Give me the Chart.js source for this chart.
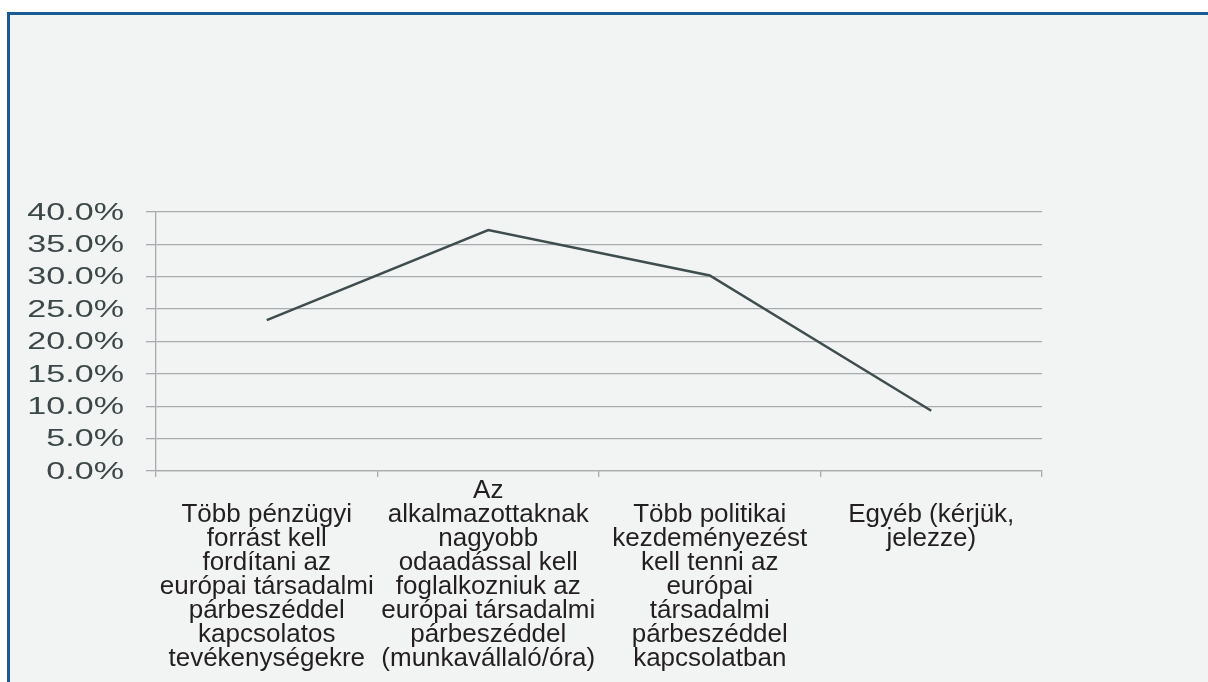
<!DOCTYPE html>
<html>
<head>
<meta charset="utf-8">
<script src="https://cdn.jsdelivr.net/npm/chart.js@4"></script>
<style>
  html, body { margin: 0; padding: 0; background: #fff; }
  #frame {
    position: absolute; left: 7px; top: 12px; width: 1220px; height: 700px;
    background: #f2f3f3;
    border-top: 3px solid #1b5b95;
    border-left: 3px solid #1b5b95;
  }
  #myCanvas { position: absolute; left: 0; top: 0; }
</style>
</head>
<body>
<div id="frame"></div>
<canvas id="myCanvas" width="1208" height="682"></canvas>
<script>
const categories = [
  ['Több pénzügyi', 'forrást kell', 'fordítani az', 'európai társadalmi', 'párbeszéddel', 'kapcsolatos', 'tevékenységekre'],
  ['Az', 'alkalmazottaknak', 'nagyobb', 'odaadással kell', 'foglalkozniuk az', 'európai társadalmi', 'párbeszéddel', '(munkavállaló/óra)'],
  ['Több politikai', 'kezdeményezést', 'kell tenni az', 'európai', 'társadalmi', 'párbeszéddel', 'kapcsolatban'],
  ['Egyéb (kérjük,', 'jelezze)']
];

const values = [23.3, 37.2, 30.2, 9.3];

const yTickLabels = ['0.0%', '5.0%', '10.0%', '15.0%', '20.0%', '25.0%', '30.0%', '35.0%', '40.0%'];

// y labels in the picture are drawn horizontally stretched
const wideYLabels = {
  id: 'wideYLabels',
  afterDraw(chart) {
    const y = chart.scales.y;
    const ctx = chart.ctx;
    ctx.save();
    ctx.font = '24px "Liberation Sans", Arial, sans-serif';
    ctx.fillStyle = '#3c4748';
    ctx.textAlign = 'right';
    ctx.textBaseline = 'middle';
    y.ticks.forEach((t, i) => {
      ctx.save();
      ctx.translate(y.right - 32, y.getPixelForTick(i) + 1);
      ctx.scale(1.42, 1);
      ctx.fillText(yTickLabels[i], 0, 0);
      ctx.restore();
    });
    ctx.restore();
  }
};

const data = {
  labels: categories,
  datasets: [{
    data: values,
    borderColor: '#3f4d4f',
    borderWidth: 2.5,
    pointRadius: 0,
    tension: 0,
    fill: false
  }]
};

const config = {
  type: 'line',
  data: data,
  plugins: [wideYLabels],
  options: {
    responsive: false,
    animation: false,
    layout: { padding: { top: 212, right: 166, bottom: 0, left: 0 } },
    plugins: { legend: { display: false }, tooltip: { enabled: false } },
    scales: {
      x: {
        offset: true,
        afterFit: s => { s.height = 211; },
        grid: { offset: true, drawOnChartArea: false, drawTicks: true, tickLength: 6, color: '#a8acae', lineWidth: 1.3 },
        border: { color: '#a8acae', width: 1.3 },
        ticks: {
          autoSkip: false,
          maxRotation: 0,
          padding: 14,
          crossAlign: 'far',
          color: '#231f20',
          font: { family: '"Liberation Sans", Arial, sans-serif', size: 26, lineHeight: '24px' },
          callback: (v, i) => {
            const lines = categories[i].slice();
            while (lines.length < 7) lines.push('');
            return lines;
          }
        }
      },
      y: {
        min: 0,
        max: 40,
        afterFit: s => { s.width = 156; },
        grid: { color: '#a8acae', lineWidth: 1.3, tickLength: 10 },
        border: { color: '#a8acae', width: 1.3 },
        ticks: {
          stepSize: 5,
          color: 'rgba(0,0,0,0)',
          font: { size: 20 },
          callback: (v, i) => yTickLabels[i]
        }
      }
    }
  }
};

const myChart = new Chart(document.getElementById('myCanvas'), config);
</script>
</body>
</html>
